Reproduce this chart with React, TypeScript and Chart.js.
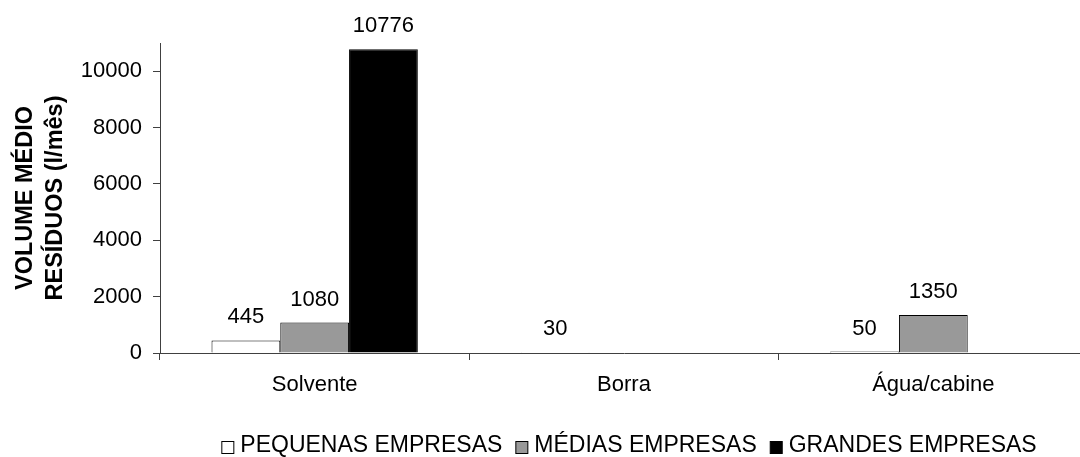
import React, { useEffect, useRef } from "react";
import { Chart, registerables } from "chart.js";

Chart.register(...registerables);

const categories = ["Solvente", "Borra", "Água/cabine"];
const seriesNames = ["PEQUENAS EMPRESAS", "MÉDIAS EMPRESAS", "GRANDES EMPRESAS"];
const pequenas: (number | null)[] = [445, 30, 50];
const medias: (number | null)[] = [1080, null, 1350];
const grandes: (number | null)[] = [10776, null, null];
const yTitle = ["VOLUME MÉDIO", "RESÍDUOS (l/mês)"];
const yTicks = [0, 2000, 4000, 6000, 8000, 10000];
const yMax = 11000;

const FONT = "'Liberation Sans', Arial, sans-serif";
const AXIS = "#404040";

const valueLabels = {
  id: "valueLabels",
  afterDatasetsDraw(chart: any) {
    const ctx = chart.ctx;
    ctx.save();
    ctx.font = `22px ${FONT}`;
    ctx.fillStyle = "#000";
    ctx.textAlign = "center";
    ctx.textBaseline = "alphabetic";
    chart.data.datasets.forEach((ds: any, i: number) => {
      const meta = chart.getDatasetMeta(i);
      meta.data.forEach((el: any, j: number) => {
        const v = ds.data[j];
        if (v === null || v === undefined) return;
        ctx.fillText(String(v), el.x, el.y - 17);
      });
    });
    ctx.restore();
  },
};

const customLegend = {
  id: "customLegend",
  afterDraw(chart: any) {
    const ctx = chart.ctx;
    ctx.save();
    const size = 23;
    ctx.font = `${size}px ${FONT}`;
    const box = 12;
    const gap = 7;
    const between = 13;
    const items = chart.data.datasets.map((ds: any) => ({
      label: ds.label,
      fill: ds.backgroundColor,
      w: box + gap + ctx.measureText(ds.label).width,
    }));
    const total = items.reduce((s: number, it: any) => s + it.w, 0) + between * (items.length - 1);
    const cx = 629;
    const cy = 446;
    let x = cx - total / 2;
    items.forEach((it: any) => {
      ctx.fillStyle = it.fill;
      ctx.fillRect(x + 0.5, cy - box / 2 + 1.5, box, box);
      ctx.strokeStyle = "#000";
      ctx.lineWidth = 1;
      ctx.strokeRect(x + 0.5, cy - box / 2 + 1.5, box, box);
      ctx.fillStyle = "#000";
      ctx.textAlign = "left";
      ctx.textBaseline = "middle";
      ctx.fillText(it.label, x + box + gap, cy);
      x += it.w + between;
    });
    ctx.restore();
  },
};

export default function App() {
  const ref = useRef<HTMLCanvasElement>(null);
  useEffect(() => {
    if (!ref.current) return;
    const chart = new Chart(ref.current, {
      type: "bar",
      data: {
        labels: categories,
        datasets: [
          { label: seriesNames[0], data: pequenas, backgroundColor: "#ffffff", borderColor: "#000000", borderWidth: 1 },
          { label: seriesNames[1], data: medias, backgroundColor: "#999999", borderColor: "#000000", borderWidth: 1 },
          { label: seriesNames[2], data: grandes, backgroundColor: "#000000", borderColor: "#000000", borderWidth: 1 },
        ],
      },
      options: {
        responsive: false,
        animation: false,
        devicePixelRatio: 1,
        layout: { padding: { top: 43, right: 4, bottom: 44, left: 0 } },
        datasets: { bar: { categoryPercentage: 0.667, barPercentage: 1 } },
        plugins: {
          legend: { display: false },
          tooltip: { enabled: false },
          title: { display: false },
        },
        scales: {
          x: {
            grid: { display: true, drawOnChartArea: false, drawTicks: true, tickLength: 7, color: AXIS, offset: true },
            border: { display: true, color: AXIS, width: 1 },
            ticks: { color: "#000", font: { family: FONT, size: 22 }, padding: 12, maxRotation: 0 },
            afterFit(scale: any) { scale.height = 60; },
          },
          y: {
            min: 0,
            max: yMax,
            ticks: {
              autoSkip: false,
              color: "#000",
              font: { family: FONT, size: 22 },
              padding: 11,
              callback: (v: any) => String(v),
            },
            afterBuildTicks(scale: any) { scale.ticks = yTicks.map((v) => ({ value: v })); },
            grid: { display: true, drawOnChartArea: false, drawTicks: true, tickLength: 7, color: AXIS },
            border: { display: true, color: AXIS, width: 1 },
            title: {
              display: true,
              text: yTitle,
              color: "#000",
              font: { family: FONT, size: 23.5, weight: "bold", lineHeight: 1.28 },
              padding: { top: 10, bottom: 0 },
            },
            afterFit(scale: any) { scale.width = 160; },
          },
        },
      },
      plugins: [valueLabels, customLegend],
    });
    return () => chart.destroy();
  }, []);
  return (
    <div style={{ position: "fixed", left: 0, top: 0, width: 1080, height: 457, overflow: "hidden", background: "#fff" }}>
      <canvas ref={ref} width={1092} height={457} style={{ width: 1092, height: 457, display: "block" }} />
    </div>
  );
}
